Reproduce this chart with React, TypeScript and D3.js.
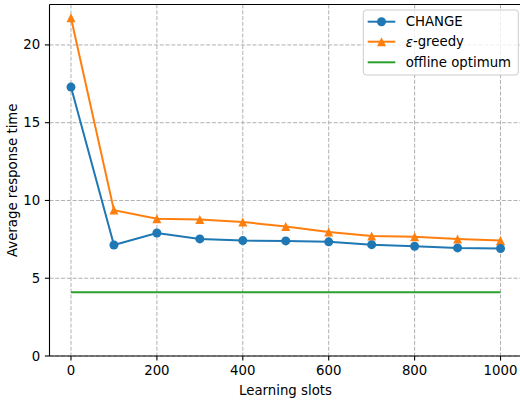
import React from "react";
import * as d3 from "d3";

const slots = [0, 100, 200, 300, 400, 500, 600, 700, 800, 900, 1000];
const changeValues = [17.29, 7.14, 7.91, 7.53, 7.42, 7.40, 7.34, 7.16, 7.06, 6.95, 6.91];
const greedyValues = [21.75, 9.38, 8.82, 8.77, 8.62, 8.32, 7.98, 7.72, 7.66, 7.53, 7.42];
const offlineValue = 4.1;
const xTicks = [0, 200, 400, 600, 800, 1000];
const yTicks = [0, 5, 10, 15, 20];
const seriesNames = ["CHANGE", "ε-greedy", "offline optimum"];

const W = 520, H = 402;
const left = 49.5, right = 522, top = 4.5, bottom = 356;
const FONT = "'DejaVu Sans', sans-serif";
const FS = 13.3;
const C1 = "#1f77b4", C2 = "#ff7f0e", C3 = "#2ca02c";

export default function App() {
  const x = d3.scaleLinear().domain([-50, 1050]).range([left, right]);
  const y = d3.scaleLinear().domain([0, 22.6]).range([bottom, top]);
  const line = d3.line<number>().x((_, i) => x(slots[i])).y((d) => y(d));
  const tri = (cx: number, cy: number, r: number) =>
    `M${cx},${cy - r}L${cx - r},${cy + r}L${cx + r},${cy + r}Z`;
  const ms = 4.5;
  const legendRows = [21.7, 41.7, 62.3];
  const lx0 = 367.7, lx1 = 395.3, tx = 405.7;
  const LW = 2;

  return (
    <svg width={W} height={H} style={{ position: "absolute", left: 0, top: 0 }} fontFamily={FONT}>
      <rect width={W} height={H} fill="#fff" />
      {xTicks.map((t) => (
        <line key={"gx" + t} x1={x(t)} x2={x(t)} y1={top} y2={bottom} stroke="#b0b0b0" strokeWidth={1} strokeDasharray="4,1.8" />
      ))}
      {yTicks.map((t) => (
        <line key={"gy" + t} x1={left} x2={right} y1={y(t)} y2={y(t)} stroke="#b0b0b0" strokeWidth={1} strokeDasharray="4,1.8" />
      ))}
      <line x1={x(slots[0])} x2={x(slots[slots.length - 1])} y1={y(offlineValue)} y2={y(offlineValue)} stroke={C3} strokeWidth={LW} />
      <path d={line(greedyValues) || ""} fill="none" stroke={C2} strokeWidth={LW} />
      {greedyValues.map((v, i) => (
        <path key={"g" + i} d={tri(x(slots[i]), y(v), ms)} fill={C2} />
      ))}
      <path d={line(changeValues) || ""} fill="none" stroke={C1} strokeWidth={LW} />
      {changeValues.map((v, i) => (
        <circle key={"c" + i} cx={x(slots[i])} cy={y(v)} r={ms} fill={C1} />
      ))}
      <line x1={left} x2={left} y1={top} y2={bottom} stroke="#000" strokeWidth={1.1} />
      <line x1={left} x2={right} y1={bottom} y2={bottom} stroke="#000" strokeWidth={1.1} />
      <line x1={left} x2={right} y1={top} y2={top} stroke="#000" strokeWidth={1.1} />
      {xTicks.map((t) => (
        <g key={"xt" + t}>
          <line x1={x(t)} x2={x(t)} y1={bottom} y2={bottom + 4.6} stroke="#000" strokeWidth={1.1} />
          <text x={x(t)} y={bottom + 9.3} fontSize={FS} textAnchor="middle" dominantBaseline="hanging" fill="#000">{t}</text>
        </g>
      ))}
      {yTicks.map((t) => (
        <g key={"yt" + t}>
          <line x1={left - 4.6} x2={left} y1={y(t)} y2={y(t)} stroke="#000" strokeWidth={1.1} />
          <text x={left - 9.3} y={y(t)} fontSize={FS} textAnchor="end" dominantBaseline="central" fill="#000">{t}</text>
        </g>
      ))}
      <text x={285.5} y={390} fontSize={FS} textAnchor="middle" dominantBaseline="central">Learning slots</text>
      <text transform={`translate(12,${(top + bottom) / 2}) rotate(-90)`} fontSize={FS} textAnchor="middle" dominantBaseline="central">Average response time</text>
      <rect x={363.3} y={10} width={155} height={65} rx={3} fill="#fff" fillOpacity={0.8} stroke="#cccccc" strokeWidth={1} />
      <line x1={lx0} x2={lx1} y1={legendRows[0]} y2={legendRows[0]} stroke={C1} strokeWidth={LW} />
      <circle cx={(lx0 + lx1) / 2} cy={legendRows[0]} r={ms} fill={C1} />
      <line x1={lx0} x2={lx1} y1={legendRows[1]} y2={legendRows[1]} stroke={C2} strokeWidth={LW} />
      <path d={tri((lx0 + lx1) / 2, legendRows[1], ms)} fill={C2} />
      <line x1={lx0} x2={lx1} y1={legendRows[2]} y2={legendRows[2]} stroke={C3} strokeWidth={LW} />
      <text x={tx} y={legendRows[0]} fontSize={FS} dominantBaseline="central">{seriesNames[0]}</text>
      <text x={tx} y={legendRows[1]} fontSize={FS} dominantBaseline="central">
        <tspan fontStyle="italic">ε</tspan>{seriesNames[1].slice(1)}
      </text>
      <text x={tx} y={legendRows[2]} fontSize={FS} dominantBaseline="central">{seriesNames[2]}</text>
    </svg>
  );
}
